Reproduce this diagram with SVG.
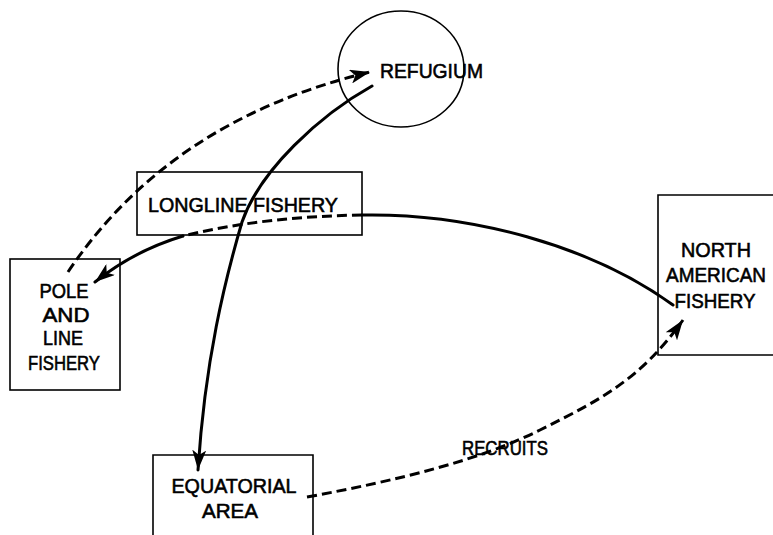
<svg xmlns="http://www.w3.org/2000/svg" width="773" height="535" viewBox="0 0 773 535">
<style>
.box{fill:none;stroke:#000;stroke-width:1.6}
.lbl{font-family:"Liberation Sans",Arial,sans-serif;font-size:21px;fill:#000;stroke:#000;stroke-width:0.6}
.c{fill:none;stroke:#000;stroke-width:3;stroke-linecap:round}
.dash{stroke-dasharray:10 5;stroke-linecap:butt}
</style>
<defs>
<marker id="ah" markerUnits="userSpaceOnUse" markerWidth="22" markerHeight="14" refX="20" refY="7" orient="auto">
<path d="M0,0 L20,7 L0,14 L5,7 Z" fill="#000" stroke="none"/>
</marker>
</defs>
<rect width="773" height="535" fill="#fff"/>
<g id="refugium">
<ellipse cx="401" cy="69" rx="63" ry="58" class="box" stroke-width="2"/>
<text class="lbl" x="380" y="78" textLength="103" lengthAdjust="spacingAndGlyphs">REFUGIUM</text>
</g>
<g id="longline">
<rect class="box" x="137" y="172" width="225" height="63"/>
<text class="lbl" x="148" y="212" textLength="190" lengthAdjust="spacingAndGlyphs">LONGLINE FISHERY</text>
</g>
<g id="poleline">
<rect class="box" x="10" y="259" width="110" height="131"/>
<text class="lbl" text-anchor="middle" x="64" y="298" textLength="49" lengthAdjust="spacingAndGlyphs">POLE</text>
<text class="lbl" text-anchor="middle" x="66" y="322" textLength="47" lengthAdjust="spacingAndGlyphs">AND</text>
<text class="lbl" text-anchor="middle" x="63" y="345" textLength="40" lengthAdjust="spacingAndGlyphs">LINE</text>
<text class="lbl" text-anchor="middle" x="64" y="370" textLength="72" lengthAdjust="spacingAndGlyphs">FISHERY</text>
</g>
<g id="northamerican">
<polyline class="box" points="775,195 658,195 658,355 775,355"/>
<text class="lbl" text-anchor="middle" x="716" y="257" textLength="70" lengthAdjust="spacingAndGlyphs">NORTH</text>
<text class="lbl" text-anchor="middle" x="716" y="282" textLength="100" lengthAdjust="spacingAndGlyphs">AMERICAN</text>
<text class="lbl" text-anchor="middle" x="715" y="308" textLength="81" lengthAdjust="spacingAndGlyphs">FISHERY</text>
</g>
<g id="equatorial">
<polyline class="box" points="153,537 153,455 313,455 313,537"/>
<text class="lbl" text-anchor="middle" x="234" y="493" textLength="125" lengthAdjust="spacingAndGlyphs">EQUATORIAL</text>
<text class="lbl" text-anchor="middle" x="230" y="518" textLength="56" lengthAdjust="spacingAndGlyphs">AREA</text>
</g>
<g id="connectors">
<path class="c dash" d="M68,272 Q170,120 370,72" marker-end="url(#ah)"/>
<path class="c" d="M372,86 C320,115 260,170 242,222 C225,280 205,360 198,470" marker-end="url(#ah)"/>
<path class="c" d="M673,305 C590,245 470,213 362,215"/>
<path class="c dash" d="M362,215 C300,216 240,222 183,236"/>
<path class="c" d="M183,236 C150,246 120,262 95,282" marker-end="url(#ah)"/>
<path class="c dash" d="M307,497 C400,480 480,460 540,430 S640,380 683,320" marker-end="url(#ah)"/>
<text class="lbl" x="462" y="455" textLength="86" lengthAdjust="spacingAndGlyphs">RECRUITS</text>
</g>
</svg>
